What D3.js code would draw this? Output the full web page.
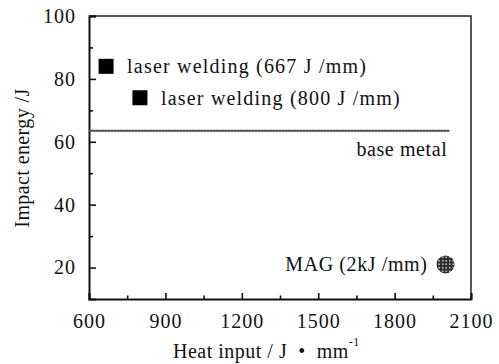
<!DOCTYPE html>
<html>
<head>
<meta charset="utf-8">
<script src="https://cdn.jsdelivr.net/npm/d3@7"></script>
<style>
  body { margin: 0; background: #fff; }
</style>
</head>
<body>
<div id="root"></div>
<script>
// data
const laserPoints = [
    {label: "laser welding (667 J /mm)", heat: 667, energy: 84},
    {label: "laser welding (800 J /mm)", heat: 800, energy: 74}
]
const magPoints = [{label: "MAG (2kJ /mm)", heat: 2000, energy: 21}]
const baseMetal = {label: "base metal", energy: 63.5, from: 600, to: 2015}
const xTicks = [600, 900, 1200, 1500, 1800, 2100]
const xMinor = [750, 1050, 1350, 1650, 1950]
const yTicks = [20, 40, 60, 80, 100]
const yMinor = [30, 50, 70, 90]

const W = 499, H = 364
const m = {top: 16, right: 28, bottom: 65, left: 89}
const FONT = "Liberation Serif"

const svg = d3.select("#root").append("svg")
    .attr("width", W).attr("height", H)
    .attr("font-family", FONT)

const x = d3.scaleLinear().domain([600, 2100]).range([m.left, W - m.right])
const y = d3.scaleLinear().domain([10, 100]).range([H - m.bottom, m.top])

// dotted fill for the MAG marker
const pat = svg.append("defs").append("pattern")
    .attr("id", "dots").attr("patternUnits", "userSpaceOnUse")
    .attr("width", 3.5).attr("height", 3.5)
pat.append("rect").attr("width", 3.5).attr("height", 3.5).attr("fill", "#2a2a2a")
pat.append("circle").attr("cx", 1.75).attr("cy", 1.75).attr("r", 0.9).attr("fill", "#ddd")

// frame (top + right)
svg.append("path")
    .attr("d", `M${x(600)},${y(100)}H${x(2100)}V${y(10)}`)
    .attr("fill", "none").attr("stroke", "#222").attr("stroke-width", 1.5)

// axes, ticks pointing inward
const xAxis = svg.append("g").attr("transform", `translate(0,${y(10)})`)
    .call(d3.axisBottom(x).tickValues(xTicks).tickSize(-6).tickPadding(15).tickFormat(d3.format("d")))
const xAxisMinor = svg.append("g").attr("transform", `translate(0,${y(10)})`)
    .call(d3.axisBottom(x).tickValues(xMinor).tickSize(-3.5).tickFormat(""))
const yAxis = svg.append("g").attr("transform", `translate(${x(600)},0)`)
    .call(d3.axisLeft(y).tickValues(yTicks).tickSize(-7).tickPadding(13))
const yAxisMinor = svg.append("g").attr("transform", `translate(${x(600)},0)`)
    .call(d3.axisLeft(y).tickValues(yMinor).tickSize(-4).tickFormat(""))

;[xAxis, xAxisMinor, yAxis, yAxisMinor].forEach(g => {
    g.attr("font-family", FONT).attr("font-size", 20)
    g.select(".domain").attr("stroke", "#111").attr("stroke-width", 2)
    g.selectAll(".tick line").attr("stroke", "#111").attr("stroke-width", 1.6)
    g.selectAll(".tick text").attr("fill", "#111").attr("letter-spacing", 1)
})
yAxisMinor.select(".domain").remove()
xAxisMinor.select(".domain").remove()

// base metal line
svg.append("line")
    .attr("x1", x(baseMetal.from)).attr("x2", x(baseMetal.to))
    .attr("y1", y(baseMetal.energy)).attr("y2", y(baseMetal.energy))
    .attr("stroke", "#444").attr("stroke-width", 2)
svg.append("line")
    .attr("x1", x(baseMetal.from)).attr("x2", x(baseMetal.to))
    .attr("y1", y(baseMetal.energy)).attr("y2", y(baseMetal.energy))
    .attr("stroke", "#999").attr("stroke-width", 0.7).attr("stroke-dasharray", "1,2")
svg.append("text")
    .attr("x", x(baseMetal.to) - 2).attr("y", y(baseMetal.energy) + 25)
    .attr("text-anchor", "end").attr("font-size", 20).attr("letter-spacing", 0.6)
    .attr("fill", "#111")
    .text(baseMetal.label)

// laser welding squares
const sq = 15
svg.selectAll(".laser").data(laserPoints).join("rect")
    .attr("class", "laser")
    .attr("x", d => x(d.heat) - sq / 2).attr("y", d => y(d.energy) - sq / 2)
    .attr("width", sq).attr("height", sq).attr("fill", "#000")
svg.selectAll(".laserLbl").data(laserPoints).join("text")
    .attr("class", "laserLbl")
    .attr("x", d => x(d.heat) + 21).attr("y", d => y(d.energy) + 7)
    .attr("font-size", 20).attr("letter-spacing", 1.2).attr("fill", "#111")
    .text(d => d.label)

// MAG
svg.selectAll(".mag").data(magPoints).join("circle")
    .attr("class", "mag")
    .attr("cx", d => x(d.heat)).attr("cy", d => y(d.energy)).attr("r", 9)
    .attr("fill", "url(#dots)")
svg.selectAll(".magLbl").data(magPoints).join("text")
    .attr("class", "magLbl")
    .attr("x", d => x(d.heat) - 18).attr("y", d => y(d.energy) + 7)
    .attr("text-anchor", "end").attr("font-size", 20).attr("letter-spacing", 0.6)
    .attr("fill", "#111")
    .text(d => d.label)

// axis titles
const xt = svg.append("text")
    .attr("x", 173).attr("y", 358).attr("font-size", 20).attr("fill", "#111")
    .attr("letter-spacing", 0.5).attr("xml:space", "preserve")
xt.append("tspan").text("Heat input / J  \u2022  mm")
xt.append("tspan").attr("dy", -12).attr("font-size", 12).text("-1")

svg.append("text")
    .attr("transform", `translate(29,158) rotate(-90)`)
    .attr("text-anchor", "middle").attr("font-size", 20).attr("fill", "#111")
    .attr("letter-spacing", 0.4)
    .text("Impact energy /J")
</script>
</body>
</html>
